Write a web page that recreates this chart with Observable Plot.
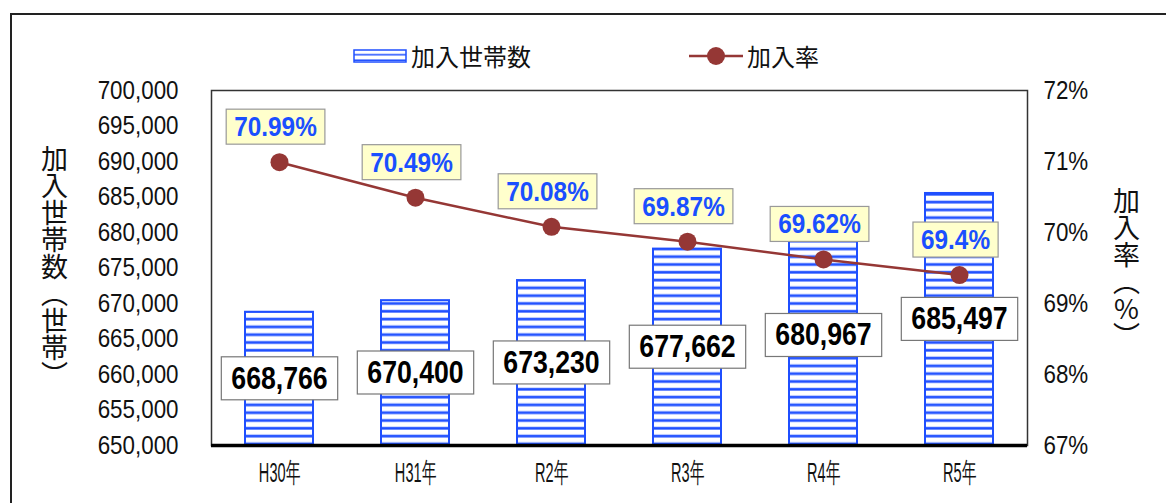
<!DOCTYPE html>
<html>
<head>
<meta charset="utf-8">
<script src="https://cdn.jsdelivr.net/npm/d3@7"></script>
<script src="https://cdn.jsdelivr.net/npm/@observablehq/plot@0.6"></script>
<style>
  html, body { margin: 0; padding: 0; background: #fff; }
  #wrap { position: relative; width: 1166px; height: 503px; overflow: hidden; font-family: "Noto Sans CJK JP", sans-serif; }
  #frame { position: absolute; left: 10px; top: 13px; width: 1200px; height: 540px; border: 2px solid #222; box-sizing: border-box; }
  #chart { position: absolute; left: 0; top: 0; }
  .legend { position: absolute; top: 38px; font-size: 24px; color: #111; line-height: 36px; display: flex; align-items: center; }
  .vtitle { position: absolute; writing-mode: vertical-rl; text-orientation: upright; font-size: 27px; color: #111; line-height: 1; }
</style>
</head>
<body>
<div id="wrap">
  <div id="frame"></div>
  <div id="chart"></div>
  <div class="legend" style="left:353px">
    <svg width="54" height="14" style="margin-right:4px"><rect x="1" y="1" width="52" height="12" fill="url(#stripesLegend)" stroke="#1f4fff" stroke-width="1.5"/>
      <defs><pattern id="stripesLegend" patternUnits="userSpaceOnUse" width="10" height="5.5" y="1"><rect width="10" height="5.5" fill="#fff"/><rect y="4" width="10" height="1.6" fill="#1f4fff"/></pattern></defs></svg>
    <span>加入世帯数</span>
  </div>
  <div class="legend" style="left:689px">
    <svg width="56" height="20" style="margin-right:2px"><line x1="0" y1="10" x2="54" y2="10" stroke="#953735" stroke-width="2.5"/><circle cx="27" cy="10" r="9" fill="#953735"/></svg>
    <span>加入率</span>
  </div>
  <div class="vtitle" style="left:41px; top:145px;">加入世帯数（世帯）</div>
  <div class="vtitle" style="left:1113px; top:187px;">加入率（%）</div>
</div>
<script>
const years = ["H30年", "H31年", "R2年", "R3年", "R4年", "R5年"];
const households = [668766, 670400, 673230, 677662, 680967, 685497];
const rates = [70.99, 70.49, 70.08, 69.87, 69.62, 69.4];
const householdTicks = [650000, 655000, 660000, 665000, 670000, 675000, 680000, 685000, 690000, 695000, 700000];
const rateTicks = [67, 68, 69, 70, 71, 72];

const yMin = householdTicks[0], yMax = householdTicks[householdTicks.length - 1];
const rMin = rateTicks[0], rMax = rateTicks[rateTicks.length - 1];
// map the right-axis (rate) onto the shared y scale
const toY = r => yMin + (r - rMin) / (rMax - rMin) * (yMax - yMin);
const fromY = y => Math.round((rMin + (y - yMin) / (yMax - yMin) * (rMax - rMin)) * 100) / 100;

const data = years.map((year, i) => ({ year, households: households[i], rate: rates[i] }));
const fmt = d3.format(",");
const numFont = '"Liberation Sans", Arial, sans-serif';

const chart = Plot.plot({
  width: 1166,
  height: 503,
  marginTop: 90,
  marginBottom: 58,
  marginLeft: 211,
  marginRight: 139,
  style: { background: "transparent", fontFamily: numFont, color: "#111" },
  x: { domain: years, paddingInner: 0.5, paddingOuter: 0.25, label: null },
  y: { domain: [yMin, yMax], label: null },
  marks: [
    Plot.barY(data, { x: "year", y1: yMin, y2: "households", fill: "url(#stripes)", stroke: "#1f4fff", strokeWidth: 2 }),
    Plot.frame({ stroke: "#333", strokeWidth: 1.5 }),
    Plot.ruleY([yMin], { stroke: "#000", strokeWidth: 3.5 }),
    Plot.axisY({ ticks: householdTicks, tickSize: 0, tickPadding: 33, tickFormat: fmt, fontSize: 26, label: null }),
    Plot.axisY({ anchor: "right", ticks: rateTicks.map(toY), tickSize: 0, tickPadding: 16, tickFormat: y => fromY(y) + "%", fontSize: 26, label: null }),
    Plot.axisX({ tickSize: 0, tickPadding: 17, fontSize: 28, label: null }),
    Plot.line(data, { x: "year", y: d => toY(d.rate), stroke: "#953735", strokeWidth: 2.5 }),
    Plot.dot(data, { x: "year", y: d => toY(d.rate), r: 9, fill: "#953735" }),
    Plot.text(data, { x: "year", y: d => (yMin + d.households) / 2, text: d => fmt(d.households), className: "vlabel", fontSize: 31, fontWeight: "bold", fill: "#000" }),
    Plot.text(data, { x: "year", y: d => toY(d.rate), dy: -35, dx: -4, text: d => d.rate + "%", className: "rlabel", fontSize: 28, fontWeight: "bold", fill: "#1a4fff" })
  ]
});
document.getElementById("chart").appendChild(chart);

// pattern for the bars
const ns = "http://www.w3.org/2000/svg";
const defs = document.createElementNS(ns, "defs");
defs.innerHTML = `<pattern id="stripes" patternUnits="userSpaceOnUse" width="20" height="7.8" y="1">
  <rect width="20" height="7.8" fill="#fff"/>
  <rect y="4.4" width="20" height="3.4" fill="#9fb4ff"/>
  <rect y="5" width="20" height="2.2" fill="#1f4fff"/>
</pattern>`;
chart.insertBefore(defs, chart.firstChild);

// condensed look for the numeric texts
function compress(texts, k) {
  texts.forEach(t => {
    const L = t.getComputedTextLength();
    t.setAttribute("textLength", L * k);
    t.setAttribute("lengthAdjust", "spacingAndGlyphs");
  });
}
compress(chart.querySelectorAll('g[aria-label="y-axis tick label"] text'), 0.86);
compress(chart.querySelectorAll('g[aria-label="x-axis tick label"] text'), 0.52);
compress(chart.querySelectorAll('g.vlabel text'), 0.86);
compress(chart.querySelectorAll('g.rlabel text'), 0.87);

// boxes behind the labels
function boxes(cls, fill, stroke, padX, padY) {
  chart.querySelectorAll("g." + cls + " text").forEach(t => {
    const b = t.getBBox();
    const r = document.createElementNS(ns, "rect");
    r.setAttribute("x", b.x - padX);
    r.setAttribute("y", b.y - padY);
    r.setAttribute("width", b.width + 2 * padX);
    r.setAttribute("height", b.height + 2 * padY);
    r.setAttribute("fill", fill);
    r.setAttribute("stroke", stroke);
    r.setAttribute("stroke-width", 1.2);
    const tr = t.getAttribute("transform");
    if (tr) r.setAttribute("transform", tr);
    t.parentNode.insertBefore(r, t);
  });
}
boxes("vlabel", "#fff", "#777", 10, 4);
boxes("rlabel", "#ffffcc", "#999", 8, 2);
</script>
</body>
</html>
